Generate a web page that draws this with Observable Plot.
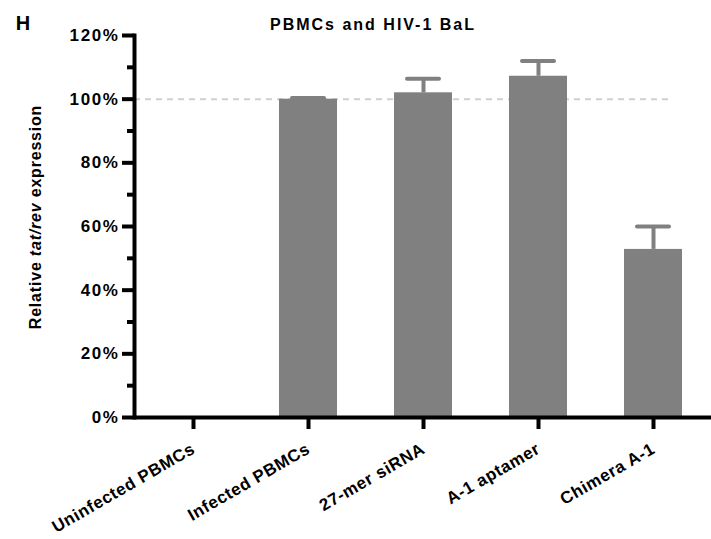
<!DOCTYPE html>
<html>
<head>
<meta charset="utf-8">
<script src="https://cdn.jsdelivr.net/npm/d3@7"></script>
<script src="https://cdn.jsdelivr.net/npm/@observablehq/plot@0.6"></script>
<style>
  html, body { margin: 0; padding: 0; background: #fff; }
  #chart { position: relative; width: 711px; height: 539px; }
</style>
</head>
<body>
<div id="chart"></div>
<script>
const categories = ["Uninfected PBMCs", "Infected PBMCs", "27-mer siRNA", "A-1 aptamer", "Chimera A-1"];
const values = [0, 100, 102, 107.2, 52.8];
const errors = [0, 0.4, 4.4, 4.8, 7.2];
const yTicks = [0, 20, 40, 60, 80, 100, 120];
const yMinorTicks = [10, 30, 50, 70, 90, 110];
const referenceLine = [100];
const title = "PBMCs and HIV-1 BaL";
const panelLetter = "H";

const data = categories.map((c, i) => ({cat: c, value: values[i], err: errors[i]}));
const errData = data.filter(d => d.err > 0);

const FONT = "'Liberation Sans', Arial, Helvetica, sans-serif";
const GREY = "#808080";

const plot = Plot.plot({
  width: 711,
  height: 539,
  marginTop: 35,
  marginBottom: 122,
  marginLeft: 134,
  marginRight: 0,
  x: {domain: categories, paddingInner: 0.5, paddingOuter: 0.25, label: null},
  y: {domain: [0, 120], label: null},
  style: {fontFamily: FONT, fontWeight: "bold", fontSize: "16px", color: "#000", background: "#fff"},
  marks: [
    Plot.ruleY(referenceLine, {stroke: "#d0d0d0", strokeWidth: 2, strokeDasharray: "6,5", insetRight: 43}),
    Plot.barY(data, {x: "cat", y: "value", fill: GREY}),
    Plot.ruleX(errData, {x: "cat", y1: "value", y2: d => d.value + d.err, stroke: GREY, strokeWidth: 4}),
    Plot.tickY(errData, {x: "cat", y: d => d.value + d.err, stroke: GREY, strokeWidth: 4, strokeLinecap: "round", insetLeft: 13, insetRight: 13}),
    Plot.axisY({ticks: yTicks, tickSize: 12, tickPadding: 3, tickFormat: d => d + "%", strokeWidth: 4, fontSize: 17, label: null}),
    Plot.axisY({ticks: yMinorTicks, tickSize: 7, tickFormat: () => "", strokeWidth: 4, label: null}),
    Plot.axisX({tickSize: 12, tickPadding: 18, tickRotate: -30, strokeWidth: 4, fontSize: 17, label: null}),
    Plot.frame({anchor: "left", strokeWidth: 4}),
    Plot.ruleY([0], {strokeWidth: 4})
  ]
});

document.getElementById("chart").appendChild(plot);

const svg = d3.select(plot);
svg.selectAll("g[aria-label='y-axis tick label']").style("letter-spacing", "1.6px");
svg.selectAll("g[aria-label='x-axis tick label']").style("letter-spacing", "0.6px");

const y = plot.scale("y");
const yMid = (y.apply(0) + y.apply(120)) / 2;

// panel letter
svg.append("text")
  .attr("x", 23).attr("y", 30)
  .attr("font-family", FONT).attr("font-weight", "bold").attr("font-size", 20)
  .text(panelLetter);

// title
svg.append("text")
  .attr("x", 373).attr("y", 30)
  .attr("text-anchor", "middle")
  .attr("font-family", FONT).attr("font-weight", "bold").attr("font-size", 16)
  .style("letter-spacing", "2px")
  .text(title);

// y label with italic part
const yl = svg.append("text")
  .attr("transform", `translate(41, ${yMid - 9}) rotate(-90)`)
  .attr("text-anchor", "middle")
  .attr("font-family", FONT).attr("font-weight", "bold").attr("font-size", 16)
  .style("letter-spacing", "0.8px");
yl.append("tspan").text("Relative ");
yl.append("tspan").attr("font-style", "italic").text("tat/rev");
yl.append("tspan").text(" expression");
</script>
</body>
</html>
